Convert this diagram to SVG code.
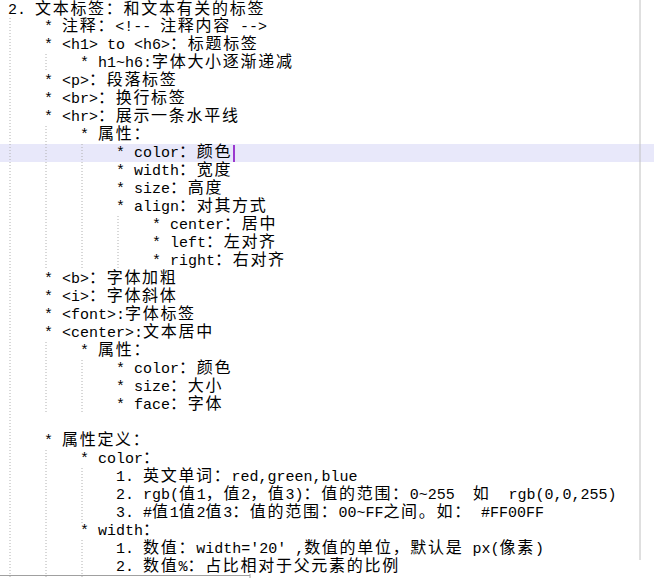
<svg xmlns="http://www.w3.org/2000/svg" width="654" height="578" viewBox="0 0 654 578">
<style>
text{font-family:"Liberation Mono","Noto Sans CJK SC",monospace;font-size:15px;fill:#000;white-space:pre}
.c{font-family:"Noto Sans CJK SC",sans-serif;font-size:16px;letter-spacing:1.7px}
.g{stroke:#b0b0b0;stroke-dasharray:1 2;stroke-width:1}
</style>
<rect width="654" height="578" fill="#fff"/>
<rect x="0" y="144" width="654" height="18" fill="#e8e8fa"/>
<line x1="234" y1="145" x2="234" y2="162" stroke="#8000c0" stroke-width="1.5"/>
<line x1="640" y1="0" x2="640" y2="560" stroke="#c0c0c0"/>
<g id="guides">
<line class="g" x1="10" y1="18" x2="10" y2="578"/>
<line class="g" x1="46" y1="54" x2="46" y2="72"/>
<line class="g" x1="46" y1="126" x2="46" y2="270"/>
<line class="g" x1="82" y1="144" x2="82" y2="270"/>
<line class="g" x1="118" y1="216" x2="118" y2="270"/>
<line class="g" x1="46" y1="342" x2="46" y2="414"/>
<line class="g" x1="82" y1="360" x2="82" y2="414"/>
<line class="g" x1="46" y1="450" x2="46" y2="578"/>
<line class="g" x1="82" y1="468" x2="82" y2="524"/>
<line class="g" x1="82" y1="540" x2="82" y2="578"/>
</g>
<g id="text">
<text x="8" y="14">2. <tspan class="c">文本标签：和文本有关的标签</tspan></text>
<text x="44" y="31">* <tspan class="c">注释：</tspan>&lt;!-- <tspan class="c">注释内容</tspan> --&gt;</text>
<text x="44" y="49">* &lt;h1&gt; to &lt;h6&gt;<tspan class="c">：标题标签</tspan></text>
<text x="80" y="67">* h1~h6:<tspan class="c">字体大小逐渐递减</tspan></text>
<text x="44" y="85">* &lt;p&gt;<tspan class="c">：段落标签</tspan></text>
<text x="44" y="103">* &lt;br&gt;<tspan class="c">：换行标签</tspan></text>
<text x="44" y="121">* &lt;hr&gt;<tspan class="c">：展示一条水平线</tspan></text>
<text x="80" y="139">* <tspan class="c">属性：</tspan></text>
<text x="116" y="157">* color<tspan class="c">：颜色</tspan></text>
<text x="116" y="175">* width<tspan class="c">：宽度</tspan></text>
<text x="116" y="193">* size<tspan class="c">：高度</tspan></text>
<text x="116" y="211">* align<tspan class="c">：对其方式</tspan></text>
<text x="152" y="229">* center<tspan class="c">：居中</tspan></text>
<text x="152" y="247">* left<tspan class="c">：左对齐</tspan></text>
<text x="152" y="265">* right<tspan class="c">：右对齐</tspan></text>
<text x="44" y="283">* &lt;b&gt;<tspan class="c">：字体加粗</tspan></text>
<text x="44" y="301">* &lt;i&gt;<tspan class="c">：字体斜体</tspan></text>
<text x="44" y="319">* &lt;font&gt;:<tspan class="c">字体标签</tspan></text>
<text x="44" y="337">* &lt;center&gt;:<tspan class="c">文本居中</tspan></text>
<text x="80" y="355">* <tspan class="c">属性：</tspan></text>
<text x="116" y="373">* color<tspan class="c">：颜色</tspan></text>
<text x="116" y="391">* size<tspan class="c">：大小</tspan></text>
<text x="116" y="409">* face<tspan class="c">：字体</tspan></text>
<text x="44" y="445">* <tspan class="c">属性定义：</tspan></text>
<text x="80" y="463">* color<tspan class="c">：</tspan></text>
<text x="116" y="481">1. <tspan class="c">英文单词：</tspan>red,green,blue</text>
<text x="116" y="499">2. rgb(<tspan class="c">值</tspan>1<tspan class="c">，值</tspan>2<tspan class="c">，值</tspan>3)<tspan class="c">：值的范围：</tspan>0~255  <tspan class="c">如</tspan>  rgb(0,0,255)</text>
<text x="116" y="517">3. #<tspan class="c">值</tspan>1<tspan class="c">值</tspan>2<tspan class="c">值</tspan>3<tspan class="c">：值的范围：</tspan>00~FF<tspan class="c">之间。如：</tspan> #FF00FF</text>
<text x="80" y="535">* width<tspan class="c">：</tspan></text>
<text x="116" y="553">1. <tspan class="c">数值：</tspan>width='20' ,<tspan class="c">数值的单位，默认是</tspan> px(<tspan class="c">像素</tspan>)</text>
<text x="116" y="571">2. <tspan class="c">数值</tspan>%<tspan class="c">：占比相对于父元素的比例</tspan></text>
</g>
<line x1="0" y1="575.5" x2="250" y2="575.5" stroke="#a0a0a0"/>
<line x1="250" y1="574" x2="250" y2="578" stroke="#a0a0a0"/>
</svg>
